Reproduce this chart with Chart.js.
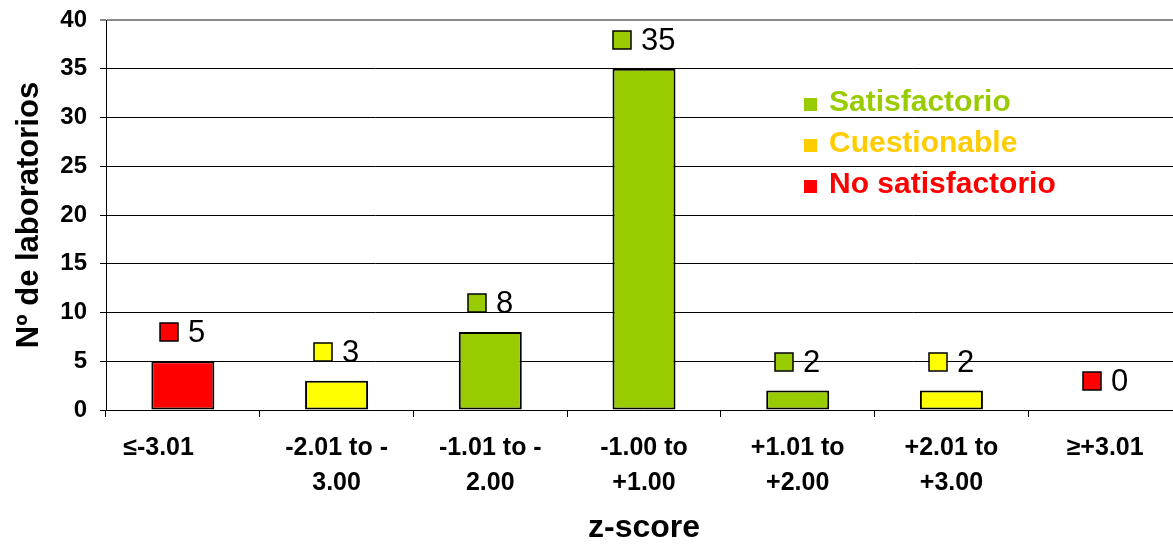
<!DOCTYPE html>
<html>
<head>
<meta charset="utf-8">
<script src="https://cdn.jsdelivr.net/npm/chart.js@4.4.1/dist/chart.umd.min.js"></script>
<style>
  html, body { margin: 0; padding: 0; background: #fff; overflow: hidden; }
  #wrap { width: 1182px; height: 549px; }
</style>
</head>
<body>
<div id="wrap"><canvas id="zChart"></canvas></div>
<script>
// Categorías (z-score) y número de laboratorios
const categorias = [
    ['≤-3.01'],
    ['-2.01 to -', '3.00'],
    ['-1.01 to -', '2.00'],
    ['-1.00 to', '+1.00'],
    ['+1.01 to', '+2.00'],
    ['+2.01 to', '+3.00'],
    ['≥+3.01']
];
const laboratorios = [5, 3, 8, 35, 2, 2, 0];
const coloresBarras = ['#FF0000', '#FFFF00', '#99CC00', '#99CC00', '#99CC00', '#FFFF00', '#FF0000'];
const ticksY = [0, 5, 10, 15, 20, 25, 30, 35, 40];

// Leyenda
const leyendaTextos = ['Satisfactorio', 'Cuestionable', 'No satisfactorio'];
const leyendaColores = ['#99CC00', '#FFCC00', '#FF0000'];

const FUENTE = 'Arial, "Liberation Sans", sans-serif';

// Etiquetas encima de cada barra: cuadradito de color + número
const etiquetasPlugin = {
    id: 'etiquetas',
    afterDatasetsDraw(chart) {
        const ctx = chart.ctx;
        const meta = chart.getDatasetMeta(0);
        ctx.save();
        ctx.font = '31px ' + FUENTE;
        ctx.textBaseline = 'middle';
        ctx.textAlign = 'left';
        meta.data.forEach((bar, i) => {
            const txt = String(laboratorios[i]);
            const tw = ctx.measureText(txt).width;
            const sq = 18, gap = 10;
            const total = sq + gap + tw;
            const x0 = Math.round(bar.x - total / 2);
            const cy = Math.round(bar.y - 29);
            ctx.fillStyle = coloresBarras[i];
            ctx.fillRect(x0, cy - sq / 2, sq, sq);
            ctx.strokeStyle = '#000';
            ctx.lineWidth = 1.5;
            ctx.strokeRect(x0, cy - sq / 2, sq, sq);
            ctx.fillStyle = '#000';
            ctx.fillText(txt, x0 + sq + gap, cy + 1);
        });
        ctx.restore();
    }
};

// Leyenda dibujada a mano dentro del área del gráfico
const leyendaPlugin = {
    id: 'leyenda',
    afterDraw(chart) {
        const ctx = chart.ctx;
        const area = chart.chartArea;
        ctx.save();
        ctx.font = 'bold 30px ' + FUENTE;
        ctx.textBaseline = 'alphabetic';
        leyendaTextos.forEach((t, i) => {
            const x = area.left + 698;
            const base = area.top + 91 + i * 41;
            ctx.fillStyle = leyendaColores[i];
            ctx.fillRect(x, base - 13, 13, 13);
            ctx.fillText(t, x + 25, base);
        });
        ctx.restore();
    }
};

const ctx = document.getElementById('zChart').getContext('2d');
const zChart = new Chart(ctx, {
    type: 'bar',
    data: {
        labels: categorias,
        datasets: [{
            data: laboratorios,
            backgroundColor: coloresBarras,
            borderColor: '#000',
            borderWidth: 2,
            borderSkipped: false,
            barPercentage: 0.41,
            categoryPercentage: 1
        }]
    },
    options: {
        responsive: true,
        maintainAspectRatio: false,
        animation: false,
        devicePixelRatio: 1,
        layout: { padding: { top: 20, right: 0, left: 0, bottom: 0 } },
        plugins: {
            legend: { display: false },
            tooltip: { enabled: false }
        },
        scales: {
            x: {
                afterFit: s => { s.height = 139; },
                grid: {
                    drawOnChartArea: false,
                    color: '#000',
                    tickLength: 7,
                    offset: true
                },
                border: { color: '#000', width: 1 },
                ticks: {
                    color: '#000',
                    font: { family: FUENTE, size: 25, weight: 'bold', lineHeight: 1.4 },
                    padding: 14,
                    maxRotation: 0,
                    autoSkip: false,
                    // la primera etiqueta aparece desplazada a la izquierda en el original
                    callback: (v, i) => (i === 0 ? categorias[0][0] + '\u00a0'.repeat(7) : categorias[i])
                },
                title: {
                    display: true,
                    text: 'z-score',
                    color: '#000',
                    font: { family: FUENTE, size: 32, weight: 'bold' },
                    padding: { top: 0, bottom: 2 }
                }
            },
            y: {
                min: 0,
                max: 40,
                afterFit: s => { s.width = 106; s.paddingTop = 0; s.paddingBottom = 0; },
                afterBuildTicks: s => { s.ticks = ticksY.map(v => ({ value: v })); },
                grid: {
                    color: c => (c.tick && c.tick.value === 40 ? '#888' : '#000'),
                    lineWidth: c => (c.tick && c.tick.value === 40 ? 2 : 1),
                    tickLength: 6
                },
                border: { color: '#000', width: 1 },
                ticks: {
                    color: '#000',
                    font: { family: FUENTE, size: 24, weight: 'bold' },
                    padding: 13
                },
                title: {
                    display: true,
                    text: 'Nº de laboratorios',
                    color: '#000',
                    font: { family: FUENTE, size: 31, weight: 'bold' },
                    padding: { top: 11, bottom: 0 }
                }
            }
        }
    },
    plugins: [etiquetasPlugin, leyendaPlugin]
});
</script>
</body>
</html>
